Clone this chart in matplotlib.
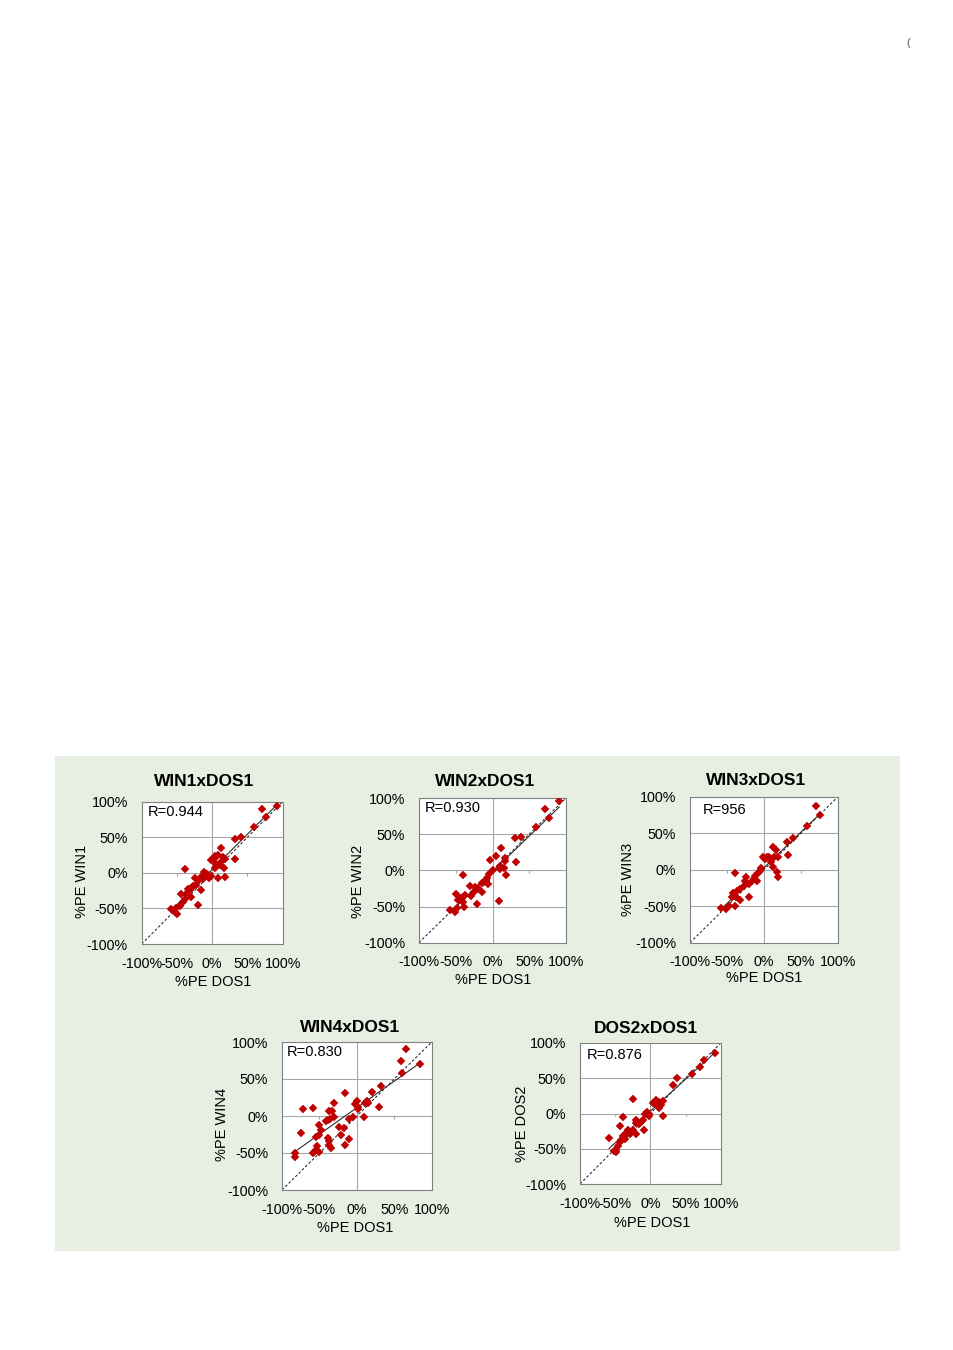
import numpy as np
import matplotlib.pyplot as plt
from matplotlib.patches import Rectangle
from matplotlib.ticker import FuncFormatter

plt.rcParams['font.family'] = ['Liberation Sans', 'DejaVu Sans']

# %PE values (x = DOS1, y = other method)
win1_x = [70.7, 92.4, 76.8, 59.3, 31.9, 40.4, 12.5, 8.3, 15.4, 4.5, -2.1, 17.5,
          31.9, 10.6, 16.8, 18.7, 8.8, 4.5, -39, -11.6, -7.3, -5, -2, -13,
          -18.7, -23.9, -27.2, -29.6, -31.9, -36.6, -43.7, -16.3, -20, -39, -41.4, -45.2,
          -50.8, -57.9, -49.4, -53.2, -34.3, -22.5, -14.4, 2.6, 13, 5.9, -29.6]
win1_y = [90, 94, 78.5, 64.4, 48, 50.4, 35.4, 24.6, 22.2, 23.2, 17.6, 19.9,
          18.9, 10.5, 7.3, -5.9, -6.8, 7.3, 5.9, 1.2, -2, -7.3, -4, -8.2,
          -9.6, -7.3, -19, -20.8, -24.6, -29.3, -30.2, -24.6, -44.7, -36.3, -41, -46.1,
          -49.4, -50.4, -57.4, -55, -22.2, -17.6, -4.9, 19.9, 15.2, 12.9, -34]

win2_x = [90.9, 70.9, 76.4, 59.1, 30.9, 39.1, 11.8, 5, -3.2, 17.3, 16.4, 31.8,
          10.5, 15, 18.2, 10.5, 0, -4.5, -7.7, -8.6, -6.4, -10.9, -14.5, -19.1,
          -23.6, -30.5, -39.5, -14.5, -29.1, -37.3, -50, -41.8, -46.4, -20.9, 9.1, -39.5,
          -38.2, -48.6, -57.7, -50.9, -44.1, -24.5, -9.1]
win2_y = [95.9, 84.8, 72.8, 60.4, 45.2, 46.5, 30.4, 20.3, 14.3, 16.6, 12.9, 12,
          6.5, 3.7, -6.5, 1.8, 0.5, -5.5, -10.1, -14.7, -19.4, -16.6, -18, -24,
          -22.6, -21.2, -6.5, -29.5, -35, -34.1, -32.7, -38.7, -41, -46.1, -42.4, -43.3,
          -50.2, -52.5, -54.8, -57.1, -37.8, -29.5, -13.4]

win3_x = [69.8, 76.1, 58.1, 31.1, 39.2, 12.2, 16.7, 7.2, 14, 18.5, -1.4, 32,
          9.5, 12.2, 17.6, 18.5, 1.8, -4, -5.9, -8.6, -11.7, -14, -16.2, -23.9,
          -39.6, -20.7, -27.5, -32, -36.5, -41.9, -20.7, -37.4, -32, -43.2, -38.7, -47.7,
          -50.9, -58.1, -25.2, -9.5, 4.1]
win3_y = [86.8, 74.9, 60.3, 37.4, 42.9, 31.5, 26.9, 17.8, 17.8, 16.9, 16.9, 20.5,
          10, 4.1, -3.7, -9.6, 14.6, 2.3, -2.3, -5, -8.2, -12.8, -16, -9.6,
          -4.6, -19.6, -21.9, -26.5, -28.8, -32.4, -37.9, -37.9, -41.6, -37.9, -50.2, -49.3,
          -53.9, -52.5, -16, -15.1, 16.9]

win4_x = [65.3, 58.7, 84.4, 60.9, 32, 20.9, 29.8, 12.9, 15.1, 11.1, -0.4, -2.2,
          0.9, 2.2, 9.8, -4.9, -10.2, -15.6, -30.2, -33.3, -36.9, -36, -39.1, -41.3,
          -59.1, -72.4, -50.2, -48, -51.1, -54.7, -74.7, -24.4, -16.9, -21.3, -11.1, -16,
          -39.1, -37.8, -36.9, -34.7, -53.8, -55.6, -58.2, -50.2, -82.2, -82.2, -30.2]
win4_y = [90, 74.5, 70, 58.2, 40, 32.3, 11.8, 20, 17.7, 17.3, 20, 16.4,
          12.7, 9.5, -1.8, -0.9, -4.1, 30.9, 17.3, 6.4, 6.4, -4.1, -5.5, -7.3,
          10.9, 9.5, -11.8, -19.1, -25.5, -28.2, -23.6, -14.5, -16.4, -25.5, -31.4, -39.1,
          -29.1, -33.6, -39.1, -42.7, -40.5, -47.3, -49.5, -48.2, -49.5, -55.5, -1.8]

dos2_x = [91.5, 76.1, 70, 58.7, 38.5, 31.5, -24.9, 8, 12.7, 18.3, 7, 10.3,
          12.7, 15, 17.4, -5.2, -7, -2.3, -10.8, -13.1, -21.1, -39, -16.4, -21.1,
          -8.5, -24.9, -43.7, -31.9, -34.3, -28.6, -20.2, -39, -36.6, -41.3, -58.7, -43.7,
          -46, -49.3, -52.1, -48.4, -1.4, 4.2]
dos2_y = [85.7, 75.2, 65.7, 56.2, 50, 40.5, 20.5, 19, 16.7, 18.1, 14.3, 10.5,
          7.1, 11.9, -3.8, 2.4, -1, -3.8, -8.6, -11.9, -8.6, -4.8, -15.2, -13.3,
          -22.9, -22.9, -18.1, -23.8, -27.6, -29.5, -29.5, -32.4, -35.7, -38.1, -34.3, -40.5,
          -46.7, -51.4, -53.3, -54.8, 0, 15.2]

titles = ['WIN1xDOS1', 'WIN2xDOS1', 'WIN3xDOS1', 'WIN4xDOS1', 'DOS2xDOS1']
ylabels = ['%PE WIN1', '%PE WIN2', '%PE WIN3', '%PE WIN4', '%PE DOS2']
r_texts = ['R=0.944', 'R=0.930', 'R=956', 'R=0.830', 'R=0.876']
ticks = [-100, -50, 0, 50, 100]
xs = [win1_x, win2_x, win3_x, win4_x, dos2_x]
ys = [win1_y, win2_y, win3_y, win4_y, dos2_y]

W, H = 954, 1350
# plot boxes in pixels: left, top, right, bottom
boxes = [(141.7, 801.7, 282.7, 944), (419, 798, 566, 942.7), (690, 796.7, 838, 942.7),
         (282, 1042, 431.7, 1190), (580, 1043, 720.7, 1184)]
title_pos = [(0.442, 1.145), (0.449, 1.113), (0.446, 1.114), (0.454, 1.095), (0.469, 1.106)]
ylab_pos = [(-0.423, 0.443), (-0.415, 0.426), (-0.419, 0.43), (-0.40, 0.44), (-0.414, 0.426)]
xlab_pos = [(0.506, -0.265), (0.503, -0.258), (0.50, -0.242), (0.488, -0.257), (0.51, -0.277)]
r_pos = [(0.04, 0.928), (0.036, 0.929), (0.086, 0.911), (0.029, 0.93), (0.05, 0.915)]

fig = plt.figure(figsize=(W / 100, H / 100), dpi=100)
fig.add_artist(Rectangle((55 / W, 1 - 1251 / H), 845 / W, 495 / H,
                         transform=fig.transFigure, facecolor='#e7efe2',
                         edgecolor='none', zorder=-1))
fig.text(908 / W, 1 - 43 / H, '(', color='#888888', fontsize=8, fontweight='bold',
         ha='center', va='center')

grid_c = '#a6a6a6'
for i in range(5):
    l, t, r, b = boxes[i]
    ax = fig.add_axes([l / W, 1 - b / H, (r - l) / W, (b - t) / H])
    ax.set_facecolor('white')
    ax.set_xlim(-100, 100)
    ax.set_ylim(-100, 100)
    ax.set_xticks(ticks)
    ax.set_yticks(ticks)
    fmt = FuncFormatter(lambda v, p: f'{int(v)}%')
    ax.xaxis.set_major_formatter(fmt)
    ax.yaxis.set_major_formatter(fmt)
    ax.tick_params(length=0, labelsize=10.3, colors='black')
    ax.tick_params(axis='x', pad=9)
    ax.tick_params(axis='y', pad=10)
    for s in ax.spines.values():
        s.set_color('#808080')
        s.set_linewidth(0.8)

    for v in [-50, 0, 50]:
        ax.axhline(v, color=grid_c, linewidth=0.8, zorder=1)
    ax.axvline(0, color=grid_c, linewidth=0.8, zorder=1)
    ax.vlines([-50, 50], -4, 0, color=grid_c, linewidth=0.8, zorder=1)

    ax.plot([-100, 100], [-100, 100], color='#222222', linewidth=0.75,
            linestyle=(0, (2.5, 2)), zorder=2)
    x = np.array(xs[i])
    y = np.array(ys[i])
    k, c = np.polyfit(x, y, 1)
    xl = np.array([x.min(), x.max()])
    ax.plot(xl, k * xl + c, color='#222222', linewidth=0.75, zorder=2)
    ax.plot(x, y, linestyle='none', marker='D', markersize=3.8,
            color='#c00000', markeredgewidth=0.3, zorder=3)

    ax.text(*r_pos[i], r_texts[i], transform=ax.transAxes, fontsize=10.5,
            ha='left', va='center')
    ax.text(*title_pos[i], titles[i], transform=ax.transAxes, fontsize=12.5,
            fontweight='bold', ha='center', va='center')
    ax.set_xlabel('%PE DOS1', fontsize=10.5, va='center')
    ax.xaxis.set_label_coords(*xlab_pos[i])
    ax.set_ylabel(ylabels[i], fontsize=10.5, va='center')
    ax.yaxis.set_label_coords(*ylab_pos[i])

fig.savefig('out.png', dpi=100)
